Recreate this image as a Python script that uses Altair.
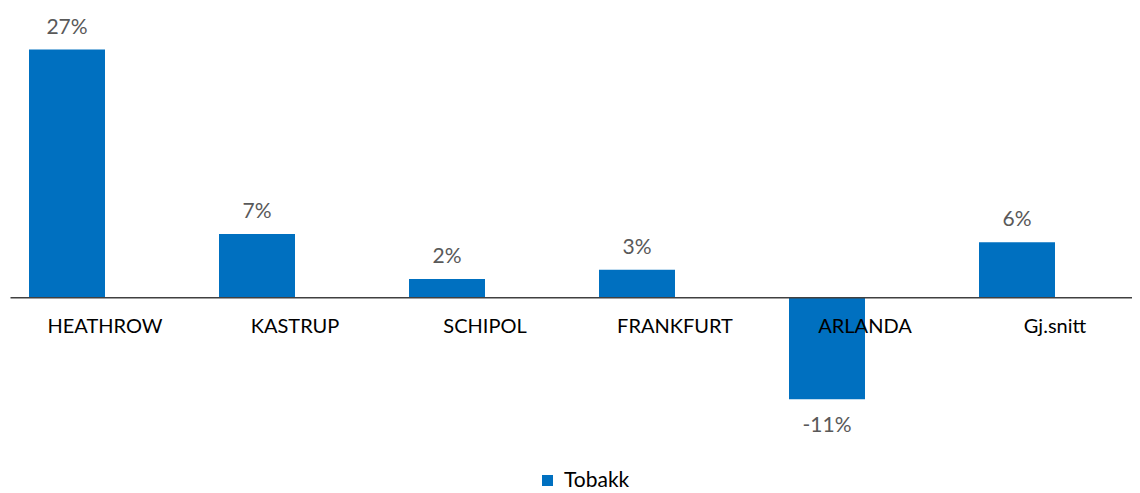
import altair as alt
import pandas as pd

categories = ["HEATHROW", "KASTRUP", "SCHIPOL", "FRANKFURT", "ARLANDA", "Gj.snitt"]
values = [27.0, 6.9, 2.0, 3.0, -11.1, 6.0]
series = ["Tobakk"] * len(categories)

df = pd.DataFrame({"kategori": categories, "verdi": values, "serie": series})

FONT = "Lato"
BLUE = "#0070C0"

x_enc = alt.X(
    "kategori:N",
    sort=categories,
    scale=alt.Scale(domain=categories, range=[0, 1140], paddingInner=0, paddingOuter=0),
    axis=alt.Axis(
        title=None,
        labelAngle=0,
        ticks=False,
        domainColor="#404040",
        domainWidth=1.5,
        labelFont=FONT,
        labelFontSize=20,
        labelColor="#000000",
        labelPadding=19,
        offset=-137.7,
        grid=False,
        zindex=1,
    ),
)
xoff_enc = alt.XOffset(
    "serie:N",
    scale=alt.Scale(domain=["Tobakk", "tom"], paddingInner=0, paddingOuter=0.25),
)
y_scale = alt.Scale(domain=[-15, 30], nice=False, zero=True)

base = alt.Chart(df).encode(x=x_enc, xOffset=xoff_enc)

bars = base.mark_bar().encode(
    y=alt.Y("verdi:Q", scale=y_scale, axis=None),
    color=alt.Color(
        "serie:N",
        scale=alt.Scale(domain=["Tobakk"], range=[BLUE]),
        legend=alt.Legend(
            title=None,
            orient="none",
            legendX=527,
            legendY=448,
            symbolType="square",
            symbolSize=121,
            symbolStrokeWidth=0,
            labelFont=FONT,
            labelFontSize=21,
            labelColor="#000000",
            labelOffset=6,
            padding=0,
        ),
    ),
)

label_expr = "(datum.verdi < 0 ? '-' : '') + format(abs(datum.verdi), '.0f') + '%'"

pos_text = (
    base.transform_filter("datum.verdi >= 0")
    .transform_calculate(etikett=label_expr)
    .mark_text(font=FONT, fontSize=21, color="#595959", baseline="middle", dy=-22)
    .encode(y=alt.Y("verdi:Q", scale=y_scale, axis=None), text="etikett:N")
)
neg_text = (
    base.transform_filter("datum.verdi < 0")
    .transform_calculate(etikett=label_expr)
    .mark_text(font=FONT, fontSize=21, color="#595959", baseline="middle", dy=27)
    .encode(y=alt.Y("verdi:Q", scale=y_scale, axis=None), text="etikett:N")
)

chart = (
    alt.layer(bars, pos_text, neg_text)
    .properties(
        width=1122,
        height=413,
        autosize=alt.AutoSizeParams(type="none"),
        padding={"left": 2, "top": 14, "right": 0, "bottom": 56},
    )
    .configure(background="white")
    .configure_view(stroke=None, strokeWidth=0)
)

chart.save("out.html", embed_options={"renderer": "svg", "actions": False})
